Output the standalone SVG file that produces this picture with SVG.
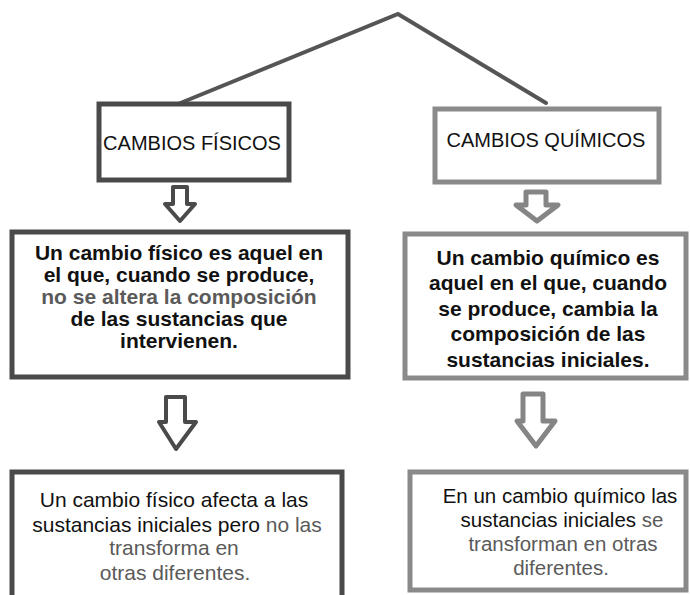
<svg xmlns="http://www.w3.org/2000/svg" width="690" height="595" viewBox="0 0 690 595">
<style>
.dark{fill:#fff;stroke:#4a4a4a;stroke-width:5}
.light{fill:#fff;stroke:#8a8a8a;stroke-width:5}
.arrD{fill:#fff;stroke:#4a4a4a;stroke-width:4;stroke-linejoin:round}
.arrL{fill:#fff;stroke:#858585;stroke-width:5;stroke-linejoin:round}
.t{font-family:"Liberation Sans",Arial,sans-serif;fill:#111;text-anchor:middle}
.h{font-size:20px}
.b{font-size:21px;font-weight:bold}
.n{font-size:21px}
.n2{font-size:20.5px}
.g{fill:#5a5a5a}
.con{fill:none;stroke:#555;stroke-width:4;stroke-linecap:round}
</style>
<g id="connectors">
<polyline class="con" points="178,104 398,14 546,103"/>
<path class="arrD" d="M173,187 H187 V204 H195 L180,221 L165,204 H173 Z"/>
<path class="arrL" d="M526,192 H546 V205 H558 L537,221 L516,205 H526 Z"/>
<path class="arrD" d="M166,397 H185 V422 H196 L176,449 L159,422 H166 Z"/>
<path class="arrL" d="M523,394 H543 V421 H555 L536,446 L517,421 H523 Z"/>
</g>
<g id="n1">
<rect class="dark" x="99" y="104" width="190" height="76"/>
<text class="t h" x="192" y="150">CAMBIOS FÍSICOS</text>
</g>
<g id="n2">
<rect class="light" x="435" y="109" width="224" height="73"/>
<text class="t h" x="546" y="147">CAMBIOS QUÍMICOS</text>
</g>
<g id="n3">
<rect class="dark" x="12" y="232" width="336" height="145"/>
<text class="t b" x="179" y="260">Un cambio físico es aquel en</text>
<text class="t b" x="179" y="282">el que, cuando se produce,</text>
<text class="t b g" x="179" y="304">no se altera la composición</text>
<text class="t b" x="179" y="326">de las sustancias que</text>
<text class="t b" x="179" y="348">intervienen.</text>
</g>
<g id="n4">
<rect class="light" x="405" y="234" width="281" height="144"/>
<text class="t b" x="548" y="265">Un cambio químico es</text>
<text class="t b" x="548" y="290">aquel en el que, cuando</text>
<text class="t b" x="548" y="316">se produce, cambia la</text>
<text class="t b" x="548" y="341">composición de las</text>
<text class="t b" x="548" y="367">sustancias iniciales.</text>
</g>
<g id="n5">
<rect class="dark" x="12" y="472" width="330" height="130"/>
<text class="t n" x="174" y="507">Un cambio físico afecta a las</text>
<text class="t n" x="177" y="532">sustancias iniciales pero <tspan class="g">no las</tspan></text>
<text class="t n g" x="174" y="555">transforma en</text>
<text class="t n g" x="175" y="580">otras diferentes.</text>
</g>
<g id="n6">
<rect class="light" x="410" y="472" width="276" height="118"/>
<text class="t n2" x="560" y="503">En un cambio químico las</text>
<text class="t n2" x="562" y="527">sustancias iniciales <tspan class="g">se</tspan></text>
<text class="t n2 g" x="563" y="551">transforman en otras</text>
<text class="t n2 g" x="561" y="575">diferentes.</text>
</g>
</svg>
